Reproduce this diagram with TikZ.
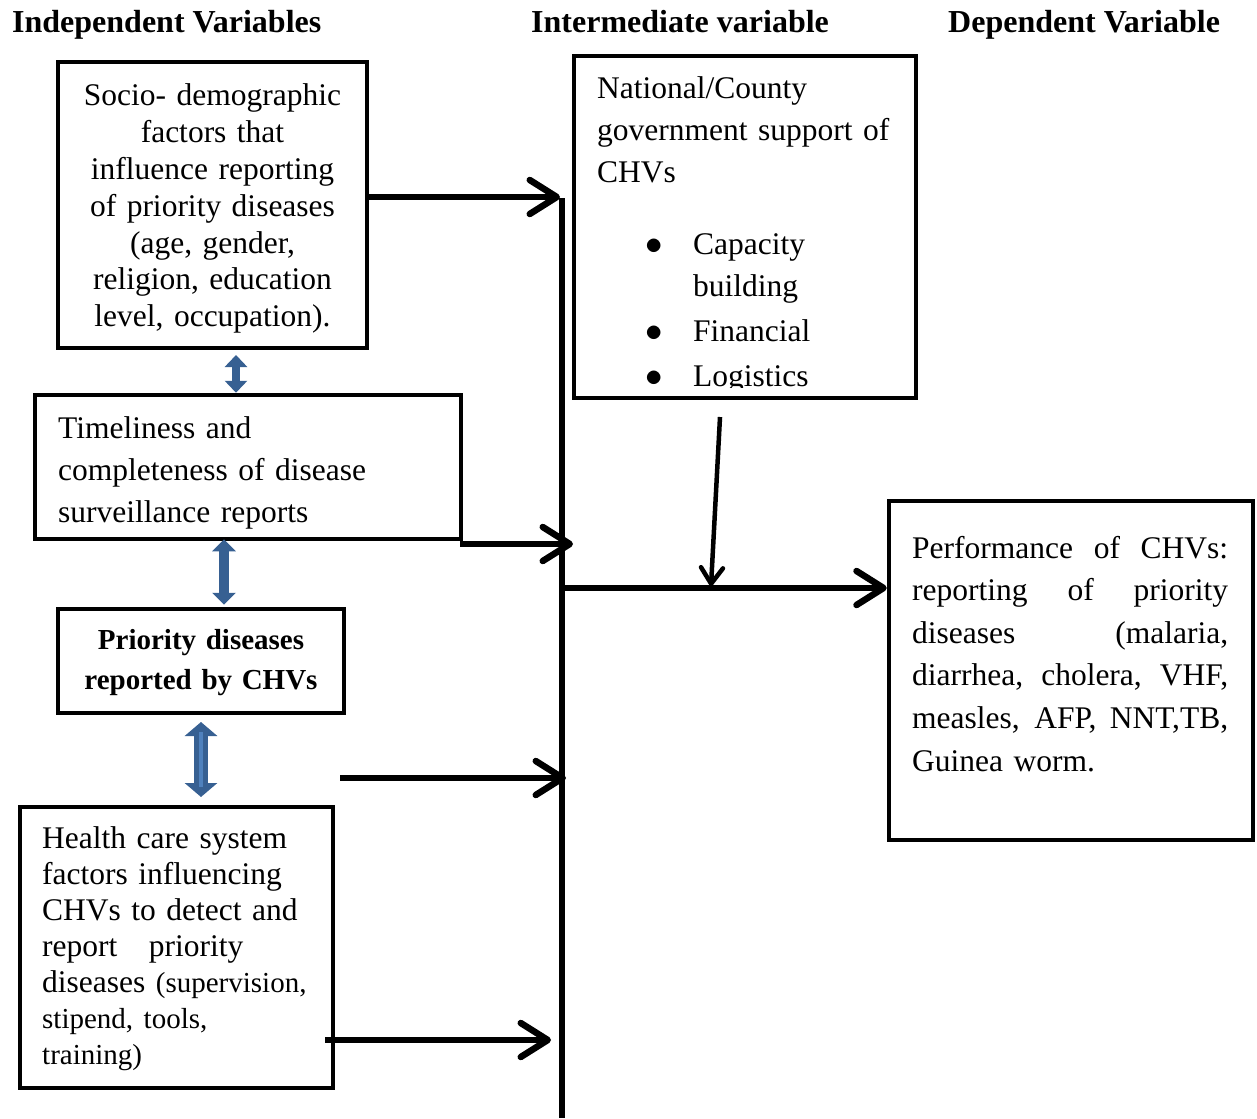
\documentclass[tikz,border=0pt]{standalone}
\usepackage{fontspec}
\setmainfont{Liberation Serif}
\usetikzlibrary{arrows.meta,calc}
\definecolor{barblue}{HTML}{376092}
\definecolor{stripeblue}{HTML}{4F81BD}
\newcommand{\justline}[1]{\makebox[316pt][s]{\spaceskip=0pt\relax\xspaceskip=0pt\relax #1}}
\newcommand{\bigbul}{\makebox[48pt][l]{\raisebox{0pt}{\scalebox{1.4}{$\bullet$}}}}
\begin{document}
\begin{tikzpicture}[x=1pt,y=-1pt,
  box/.style={draw, line width=4.5pt, inner sep=0pt},
  txt/.style={inner sep=0pt, font=\fontsize{31}{37}\selectfont},
  hdr/.style={inner sep=0pt, anchor=base west, font=\bfseries\fontsize{32}{37}\selectfont},
  flow/.style={line width=6.5pt, -{Straight Barb[length=27pt,width=34pt,line cap=round,line join=round]}},
  flowthin/.style={line width=4.5pt, -{Straight Barb[length=16pt,width=22pt,line cap=round,line join=round]}},
  busline/.style={line width=6pt},
  bluedbl/.style={color=barblue, line width=#1}
]
\useasboundingbox (0,0) rectangle (1257,1118);

% headers
\node[hdr] (h1) at (12,33) {Independent Variables};
\node[hdr] (h2) at (531,33) {Intermediate variable};
\node[hdr] (h3) at (948,33) {Dependent Variable};

% boxes
\node[box, minimum width=309pt, minimum height=286pt] (b1) at (212.5,205) {};
\node[box, minimum width=426pt, minimum height=144pt] (b2) at (248,467) {};
\node[box, minimum width=286pt, minimum height=104pt] (b3) at (201,661) {};
\node[box, minimum width=313pt, minimum height=281pt] (b4) at (176.5,947.5) {};
\node[box, minimum width=342pt, minimum height=342pt] (b5) at (745,227) {};
\node[box, minimum width=364pt, minimum height=339pt] (b6) at (1071,670.5) {};

% box texts
\node[txt, anchor=base, text width=305pt, align=center, font=\fontsize{31.5}{36.8}\selectfont] (t1) at (212.5,106)
  {Socio- demographic\\factors that\\influence reporting\\of priority diseases\\(age, gender,\\religion, education\\level, occupation).};

\node[txt, anchor=base west, text width=400pt, align=left, font=\fontsize{31.5}{42}\selectfont] (t2) at (58,438)
  {Timeliness and\\completeness of disease\\surveillance reports};

\node[txt, anchor=base, text width=280pt, align=center, font=\bfseries\fontsize{29}{40}\selectfont] (t3) at (201,649)
  {Priority diseases\\reported by CHVs};

\node[txt, anchor=base west, text width=300pt, align=left, font=\fontsize{31.5}{36}\selectfont] (t4) at (42,848)
  {Health care system\\factors influencing\\CHVs to detect and\\report\ \ \ priority\\diseases {\fontsize{29}{36}\selectfont(supervision,}\\{\fontsize{29}{36}\selectfont stipend, tools,}\\{\fontsize{29}{34}\selectfont training)}};

\begin{scope}
\clip (576,58) rectangle (914,387);
\node[txt, anchor=base west, text width=320pt, align=left, font=\fontsize{31.5}{42}\selectfont] (t5) at (597,99)
  {National/County\\government support of\\CHVs};
\node[txt, anchor=base west, text width=260pt, align=left, font=\fontsize{31.5}{42}\selectfont] (t5b) at (645,254)
  {\bigbul Capacity\\
   \hspace*{48pt}building\\[3pt]
   \bigbul Financial\\[3pt]
   \bigbul Logistics};
\end{scope}

\node[txt, anchor=base west, text width=330pt, align=left, font=\fontsize{31.5}{42.6}\selectfont] (t6) at (912,558)
  {\justline{Performance of CHVs:}\\
   \justline{reporting of priority}\\
   \justline{diseases (malaria,}\\
   \justline{diarrhea, cholera, VHF,}\\
   \justline{measles, AFP, NNT,TB,}\\
   Guinea worm.};

% bus line and junction coordinates
\coordinate (bt) at (562,198);
\coordinate (bb) at (562,1118);
\draw[busline] (bt) -- (bb);

\coordinate (j1) at (560,197);
\coordinate (j2) at (573,544);
\coordinate (s3) at (340,778);
\coordinate (j3) at (566,778);
\coordinate (s4) at (325,1040);
\coordinate (j4) at (551,1040);
\coordinate (m) at (562,588);
\coordinate (d1) at (720,417);
\coordinate (d2) at (711,586);

\draw[flow] (b1.east |- j1) -- (j1);
\draw[flow] ([xshift=-3pt]b2.east |- j2) -- (j2);
\draw[flow] (s3) -- (j3);
\draw[flow] (s4) -- (j4);
\draw[flow] (m) -- (m -| b6.west);
\draw[flowthin] (d1) -- (d2);

% blue double arrows
\coordinate (u1) at (236,355);
\draw[bluedbl=8pt, {Triangle[width=22pt,length=12pt]}-{Triangle[width=22pt,length=12pt]}] (u1) -- (u1 |- b2.north);
\coordinate (u2) at (224,0);
\draw[bluedbl=10pt, {Triangle[width=23pt,length=12pt]}-{Triangle[width=23pt,length=12pt]}] ($(b2.south -| u2)+(0,-2)$) -- ($(b3.north -| u2)+(0,-2)$);
\coordinate (u3a) at (201,722);
\coordinate (u3b) at (201,797);
\draw[bluedbl=14pt, {Triangle[width=32pt,length=14pt]}-{Triangle[width=32pt,length=14pt]}] (u3a) -- (u3b);
\draw[color=stripeblue, line width=4pt] ($(u3a)+(0,10)$) -- ($(u3b)+(0,-10)$);
\end{tikzpicture}
\end{document}
